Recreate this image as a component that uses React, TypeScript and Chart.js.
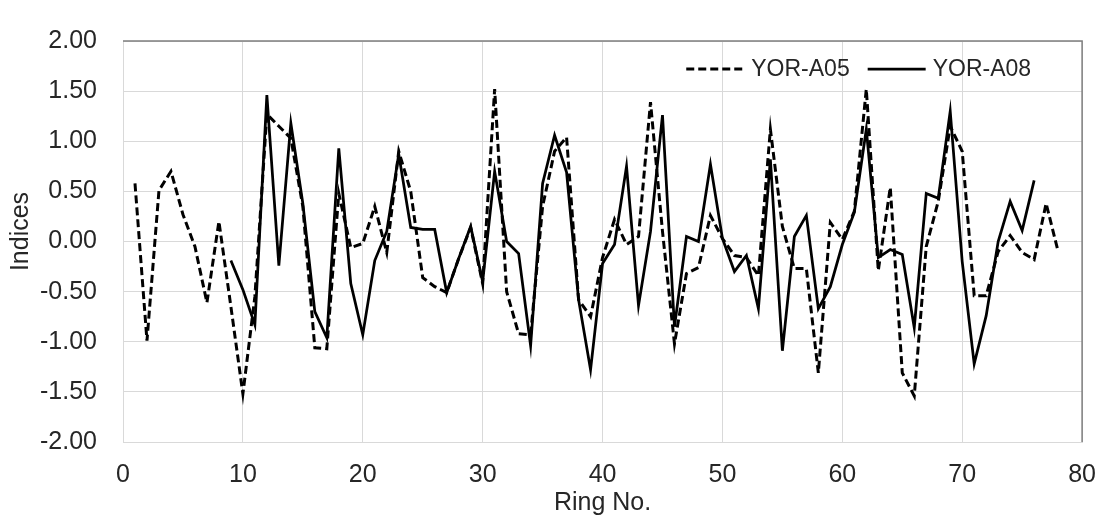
import React, { useEffect, useRef } from "react";
import { Chart, registerables } from "chart.js";

Chart.register(...registerables);

// ---- Data ----
const SERIES_LABELS = ["YOR-A05", "YOR-A08"];

const A05_FIRST_RING = 1;
const A05_VALUES = [
  0.58, -0.99, 0.51, 0.7, 0.27, -0.05, -0.61, 0.2, -0.65, -1.52,
  -0.55, 1.27, 1.15, 1.03, 0.35, -1.06, -1.07, 0.48, -0.06, -0.02,
  0.35, -0.11, 0.9, 0.5, -0.36, -0.45, -0.51, -0.17, 0.14, -0.42,
  1.52, -0.5, -0.92, -0.93, 0.35, 0.9, 1.04, -0.58, -0.75, -0.16,
  0.22, -0.03, 0.05, 1.39, 0.1, -1.02, -0.32, -0.26, 0.26, 0.03,
  -0.14, -0.16, -0.34, 1.12, 0.15, -0.27, -0.27, -1.31, 0.19, 0.02,
  0.3, 1.52, -0.29, 0.54, -1.31, -1.54, -0.05, 0.4, 1.15, 0.9,
  -0.54, -0.54, -0.1, 0.06, -0.11, -0.18, 0.38, -0.1,
];

const A08_FIRST_RING = 9;
const A08_VALUES = [
  -0.19, -0.48, -0.83, 1.46, -0.24, 1.18, 0.38, -0.7, -0.96, 0.93,
  -0.42, -0.93, -0.19, 0.1, 0.87, 0.14, 0.12, 0.12, -0.51, -0.17,
  0.15, -0.4, 0.7, 0.0, -0.12, -1.04, 0.58, 1.06, 0.69, -0.58,
  -1.28, -0.22, -0.03, 0.75, -0.64, 0.1, 1.26, -0.85, 0.05, 0.0,
  0.77, 0.03, -0.3, -0.14, -0.67, 0.82, -1.09, 0.05, 0.26, -0.67,
  -0.45, -0.03, 0.29, 1.12, -0.16, -0.08, -0.13, -0.86, 0.48, 0.43,
  1.3, -0.2, -1.22, -0.74, 0.0, 0.4, 0.11, 0.61,
];

const X_MIN = 0;
const X_MAX = 80;
const X_STEP = 10;
const Y_MIN = -2;
const Y_MAX = 2;
const Y_STEP = 0.5;
const X_TITLE = "Ring No.";
const Y_TITLE = "Indices";

const toPoints = (first: number, values: number[]) =>
  values.map((v, i) => ({ x: first + i, y: v }));

const FONT_FAMILY = '"Liberation Sans", Arial, sans-serif';
const TEXT_COLOR = "#262626";
const GRID_COLOR = "#d9d9d9";
const TICK_SIZE = 25;
const TITLE_SIZE = 25;
const LEGEND_SIZE = 23;

const frameAndLegend = {
  id: "frameAndLegend",
  afterDraw(chart: any) {
    const { ctx, chartArea: a } = chart;
    ctx.save();
    // top & right frame lines
    ctx.strokeStyle = "#7f7f7f";
    ctx.lineWidth = 1.5;
    ctx.beginPath();
    ctx.moveTo(a.left, a.top);
    ctx.lineTo(a.right, a.top);
    ctx.lineTo(a.right, a.bottom);
    ctx.stroke();

    // y-axis title
    ctx.save();
    ctx.font = `${TITLE_SIZE}px ${FONT_FAMILY}`;
    ctx.fillStyle = TEXT_COLOR;
    ctx.textAlign = "center";
    ctx.textBaseline = "middle";
    ctx.translate(21, (a.top + a.bottom) / 2 - 10);
    ctx.rotate(-Math.PI / 2);
    ctx.fillText(Y_TITLE, 0, 0);
    ctx.restore();

    // legend inside plot area, top-right
    ctx.font = `${LEGEND_SIZE}px ${FONT_FAMILY}`;
    ctx.textBaseline = "middle";
    ctx.textAlign = "left";
    const lineLen = 58;
    const textGap = 7;
    const itemGap = 18;
    const datasets = chart.data.datasets;
    const widths = datasets.map((d: any) => ctx.measureText(d.label).width);
    const total =
      widths.reduce((s: number, w: number) => s + lineLen + textGap + w, 0) +
      itemGap * (datasets.length - 1);
    let x = a.right - 51 - total;
    const y = a.top + 28;
    datasets.forEach((d: any, i: number) => {
      ctx.strokeStyle = d.borderColor;
      ctx.lineWidth = d.borderWidth;
      ctx.setLineDash(d.borderDash || []);
      ctx.beginPath();
      ctx.moveTo(x, y);
      ctx.lineTo(x + lineLen, y);
      ctx.stroke();
      ctx.setLineDash([]);
      x += lineLen + textGap;
      ctx.fillStyle = TEXT_COLOR;
      ctx.fillText(d.label, x, y + 1);
      x += widths[i] + itemGap;
    });
    ctx.restore();
  },
};

export default function App() {
  const canvasRef = useRef<HTMLCanvasElement | null>(null);

  useEffect(() => {
    if (!canvasRef.current) return;
    const chart = new Chart(canvasRef.current, {
      type: "line",
      data: {
        datasets: [
          {
            label: SERIES_LABELS[0],
            data: toPoints(A05_FIRST_RING, A05_VALUES),
            borderColor: "#000000",
            borderWidth: 3,
            borderDash: [8, 4],
            pointRadius: 0,
            fill: false,
            tension: 0,
          },
          {
            label: SERIES_LABELS[1],
            data: toPoints(A08_FIRST_RING, A08_VALUES),
            borderColor: "#000000",
            borderWidth: 2.75,
            pointRadius: 0,
            fill: false,
            tension: 0,
          },
        ],
      },
      options: {
        responsive: false,
        animation: false,
        layout: { padding: { top: 25, right: 21, left: 0, bottom: 0 } },
        plugins: {
          legend: { display: false },
          tooltip: { enabled: false },
        },
        scales: {
          x: {
            type: "linear",
            min: X_MIN,
            max: X_MAX,
            afterFit: (s: any) => {
              s.height = 82;
            },
            ticks: {
              stepSize: X_STEP,
              padding: 18,
              color: TEXT_COLOR,
              font: { family: FONT_FAMILY, size: TICK_SIZE },
              maxRotation: 0,
            },
            grid: { color: GRID_COLOR, lineWidth: 1, drawTicks: false },
            border: { color: GRID_COLOR, width: 1 },
            title: {
              display: true,
              text: X_TITLE,
              color: TEXT_COLOR,
              font: { family: FONT_FAMILY, size: TITLE_SIZE },
              padding: { top: 0, bottom: 6 },
            },
          },
          y: {
            type: "linear",
            min: Y_MIN,
            max: Y_MAX,
            afterFit: (s: any) => {
              s.width = 123;
            },
            ticks: {
              stepSize: Y_STEP,
              padding: 26,
              color: TEXT_COLOR,
              font: { family: FONT_FAMILY, size: TICK_SIZE },
              callback: (v: any) => Number(v).toFixed(2),
            },
            grid: { color: GRID_COLOR, lineWidth: 1, drawTicks: false },
            border: { color: GRID_COLOR, width: 1 },
            title: { display: false, text: Y_TITLE },
          },
        },
      },
      plugins: [frameAndLegend],
    });
    return () => chart.destroy();
  }, []);

  return (
    <div style={{ position: "absolute", left: 0, top: 0, width: 1114, height: 524 }}>
      <canvas ref={canvasRef} width={1114} height={524} style={{ display: "block" }} />
    </div>
  );
}
